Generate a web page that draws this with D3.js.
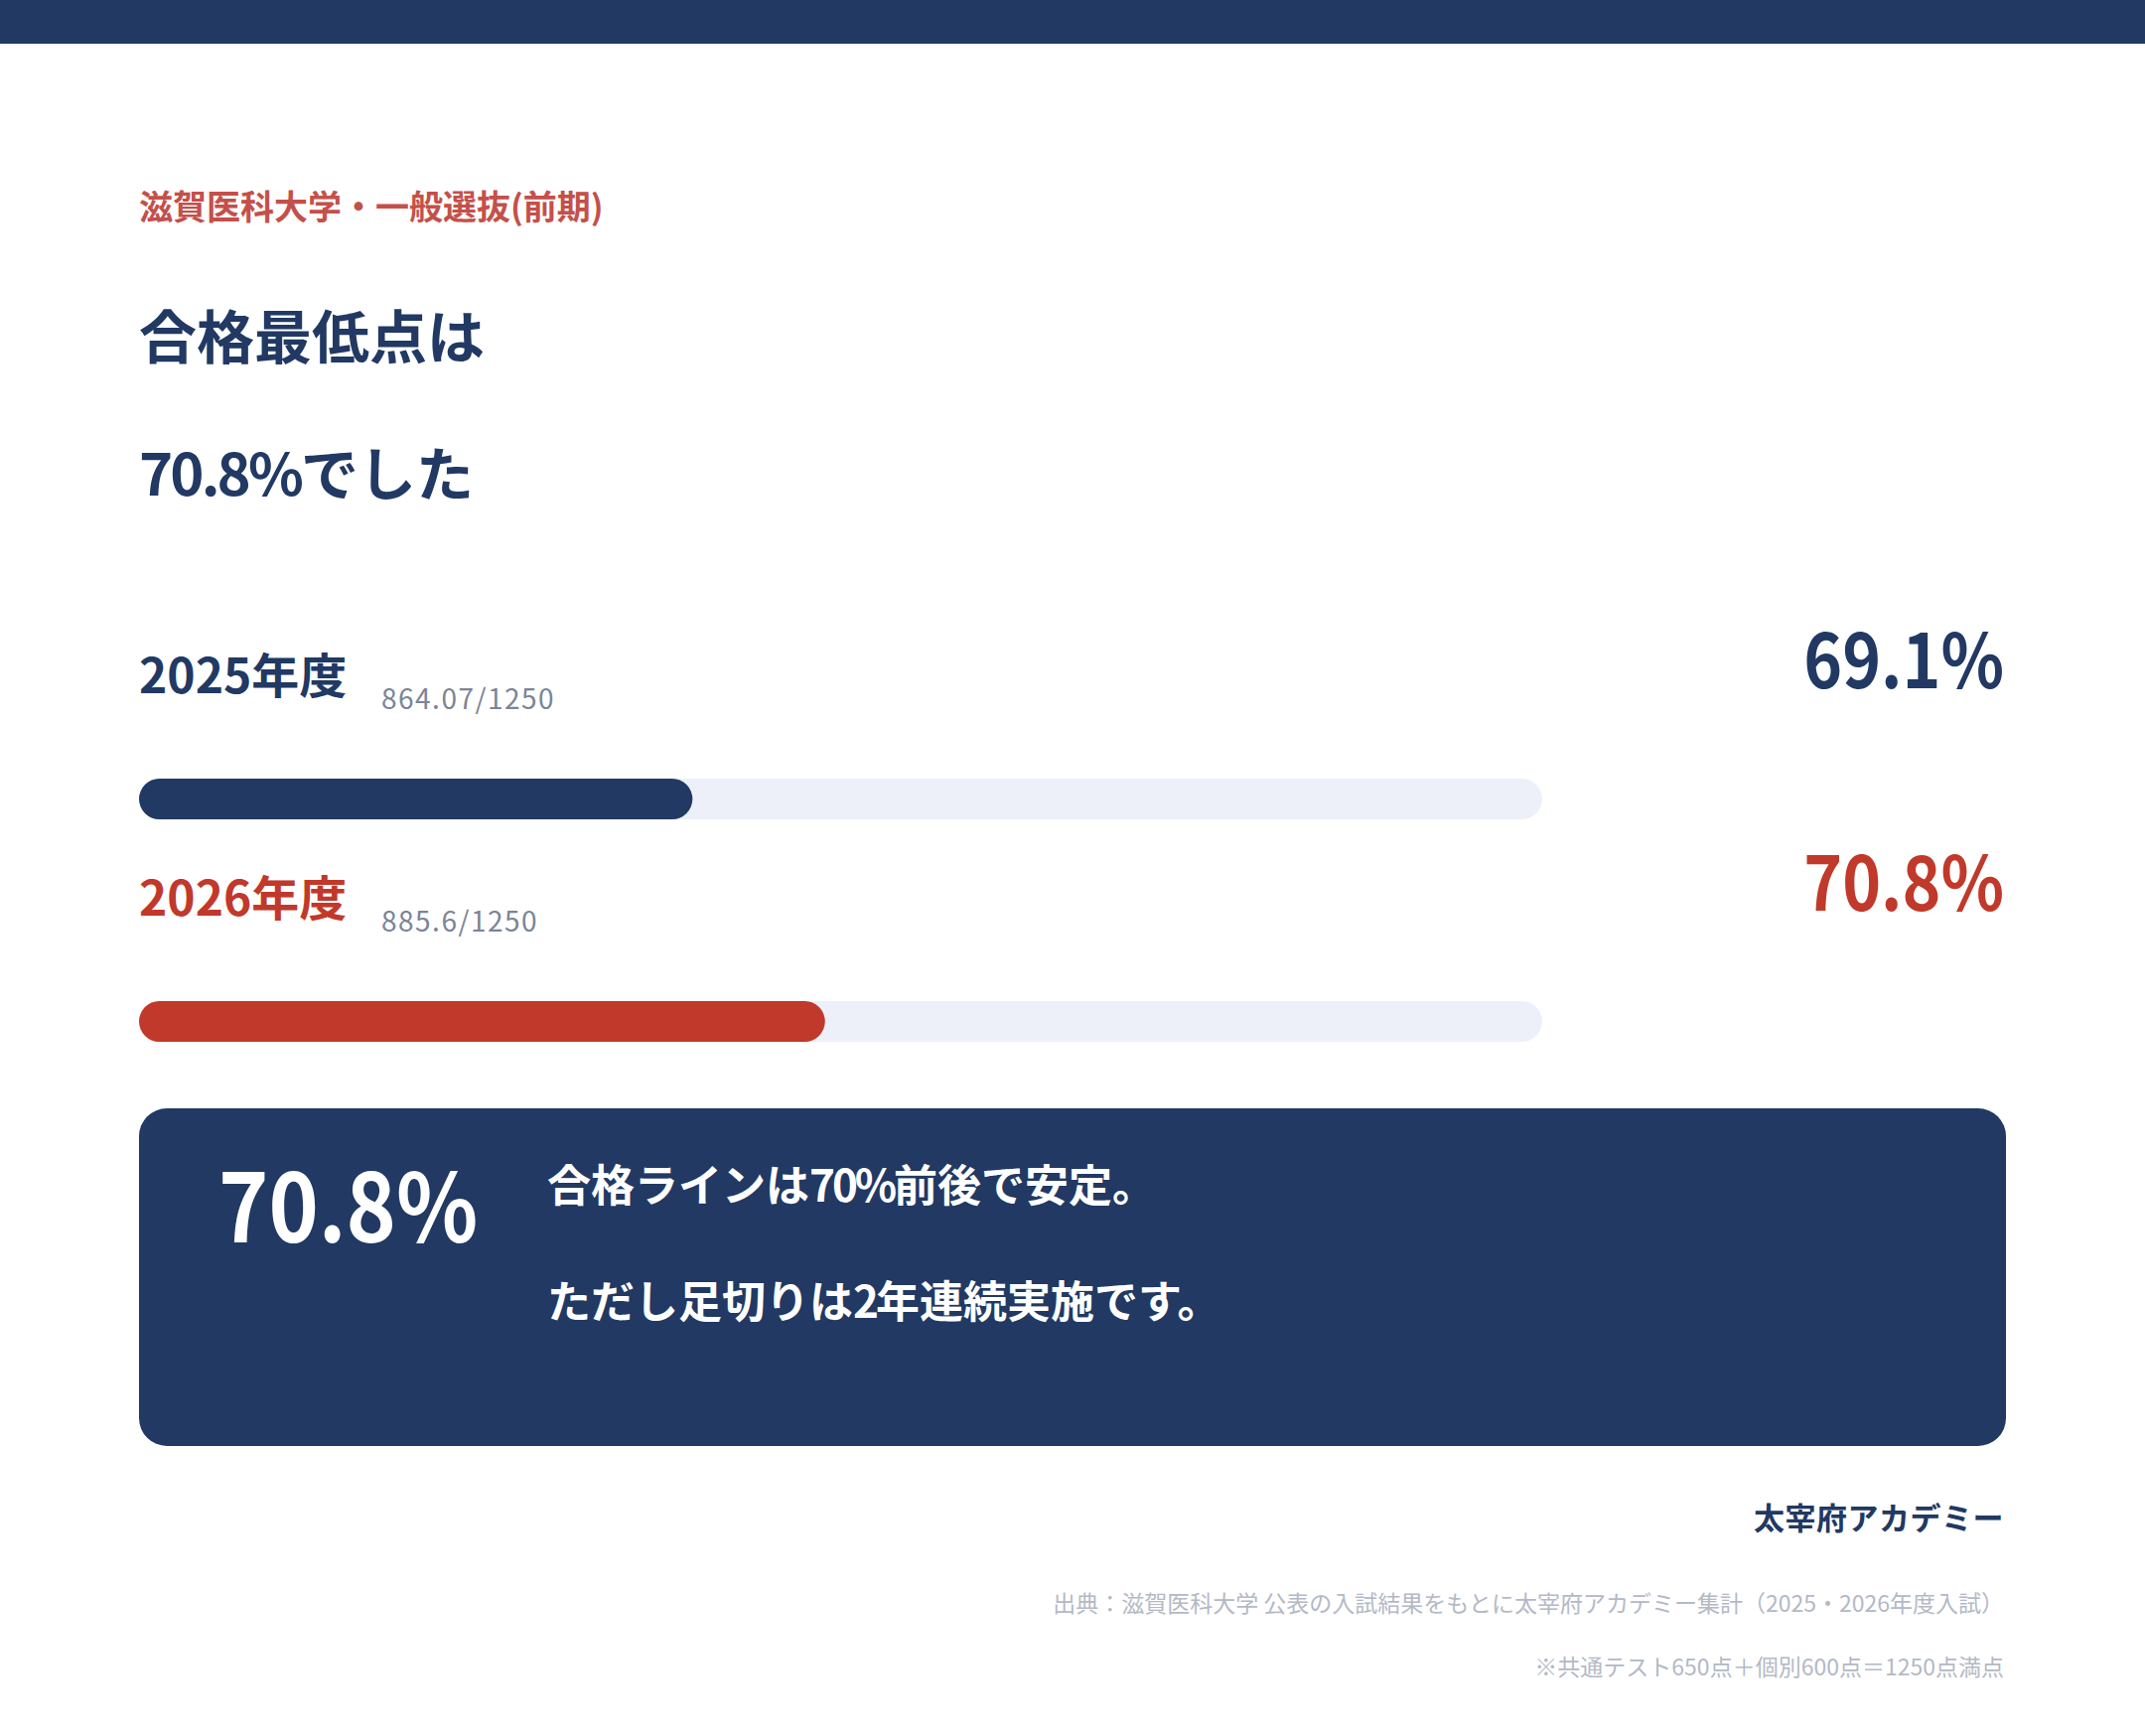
<!DOCTYPE html>
<html lang="ja">
<head>
<meta charset="utf-8">
<script src="https://cdn.jsdelivr.net/npm/d3@7"></script>
<style>
  html, body { margin: 0; padding: 0; background: #ffffff; }
  svg { display: block; font-family: "Noto Sans CJK JP", "Noto Sans", sans-serif; }
</style>
</head>
<body>
<script>
// ---- data ----
const eyebrow = "滋賀医科大学・一般選抜(前期)";
const titleLines = ["合格最低点は", "70.8%でした"];
const years = ["2025年度", "2026年度"];
const rates = [69.1, 70.8];
const scores = ["864.07", "885.6"];
const totals = ["1250", "1250"];
const rateDomain = [62, 80];
const highlightValue = "70.8%";
const noteLines = ["合格ラインは70%前後で安定。", "ただし足切りは2年連続実施です。"];
const brand = "太宰府アカデミー";
const sourceLines = [
  "出典：滋賀医科大学 公表の入試結果をもとに太宰府アカデミー集計（2025・2026年度入試）",
  "※共通テスト650点＋個別600点＝1250点満点"
];

// ---- style ----
const W = 2160, H = 1748;
const NAVY = "#213963", RED = "#c0392b", TRACK = "#edf0f8";
const rowColors = [NAVY, RED];
const left = 140, right = 2020;

const svg = d3.select("body").append("svg").attr("width", W).attr("height", H);

// split a string into digit runs and other runs, tightening the digit runs
function mixed(sel, ls) {
  sel.each(function(d) {
    const parts = d.split(/(\d[\d.%]*)/).filter(s => s.length);
    d3.select(this).selectAll("tspan").data(parts).join("tspan")
      .attr("letter-spacing", p => /^\d/.test(p) ? ls : null)
      .text(p => p);
  });
}

svg.append("rect").attr("x", 0).attr("y", 0).attr("width", W).attr("height", 44).attr("fill", NAVY);

svg.append("text").attr("x", left).attr("y", 221)
  .attr("font-size", 34).attr("font-weight", 700).attr("fill", "#c4504a")
  .text(eyebrow);

svg.selectAll("text.title").data(titleLines).join("text")
  .attr("class", "title")
  .attr("x", left).attr("y", (d, i) => 361 + i * 138)
  .attr("font-size", 58).attr("font-weight", 700).attr("fill", NAVY)
  .call(mixed, "-0.05em");

// rows
const trackW = 1413, trackH = 41;
const x = d3.scaleLinear().domain(rateDomain).range([0, trackW]);
const rowY = d3.scalePoint().domain(years).range([0, 224]);
const rows = svg.selectAll("g.row").data(years).join("g")
  .attr("class", "row")
  .attr("transform", d => `translate(${left},${698 + rowY(d)})`);

rows.append("text").attr("x", 0).attr("y", 0)
  .attr("font-size", 48).attr("font-weight", 700)
  .attr("fill", (d, i) => rowColors[i]).text(d => d);

rows.append("text").attr("x", 244).attr("y", 16)
  .attr("font-size", 28).attr("letter-spacing", 1.5).attr("fill", "#7b8497")
  .text((d, i) => `${scores[i]}/${totals[i]}`);

rows.append("text")
  .attr("transform", `translate(${right - left - 2},-5) scale(0.88,1)`)
  .attr("text-anchor", "end")
  .attr("font-size", 75).attr("font-weight", 700)
  .attr("fill", (d, i) => rowColors[i])
  .text((d, i) => `${rates[i].toFixed(1)}%`);

rows.append("rect").attr("x", 0).attr("y", 86)
  .attr("width", trackW).attr("height", trackH)
  .attr("rx", trackH / 2).attr("fill", TRACK);

rows.append("rect").attr("x", 0).attr("y", 86)
  .attr("width", (d, i) => x(rates[i])).attr("height", trackH)
  .attr("rx", trackH / 2).attr("fill", (d, i) => rowColors[i]);

// summary box
svg.append("rect").attr("x", left).attr("y", 1116)
  .attr("width", right - left).attr("height", 340)
  .attr("rx", 28).attr("fill", NAVY);

svg.append("text")
  .attr("transform", "translate(220,1251) scale(0.89,1)")
  .attr("font-size", 96).attr("font-weight", 700).attr("fill", "#ffffff")
  .text(highlightValue);

svg.selectAll("text.note").data(noteLines).join("text")
  .attr("class", "note")
  .attr("x", 551).attr("y", (d, i) => 1210 + i * 117)
  .attr("font-size", 44).attr("font-weight", 700).attr("fill", "#ffffff")
  .call(mixed, "-0.07em");

svg.append("text").attr("x", right - 2).attr("y", 1540)
  .attr("text-anchor", "end")
  .attr("font-size", 31).attr("font-weight", 700).attr("fill", NAVY)
  .attr("letter-spacing", 0.5)
  .text(brand);

svg.selectAll("text.src").data(sourceLines).join("text")
  .attr("class", "src")
  .attr("x", right - 2).attr("y", (d, i) => 1623 + i * 64)
  .attr("text-anchor", "end")
  .attr("font-size", 23).attr("fill", "#b3b9c6")
  .text(d => d);
</script>
</body>
</html>
